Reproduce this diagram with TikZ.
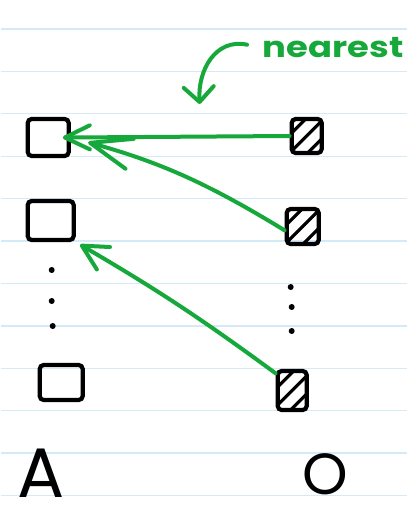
\documentclass[tikz,border=0pt]{standalone}
\usepackage{fontspec}
\setmainfont{Poppins}
\usetikzlibrary{arrows.meta,calc}
\definecolor{pen}{HTML}{16A83A}
\definecolor{ruled}{HTML}{D5EAF7}
\begin{document}
\begin{tikzpicture}[x=1pt,y=-1pt,
  sq/.style 2 args={draw=black, line width=4.2pt, rounded corners=4pt, inner sep=0pt,
    minimum width=#1, minimum height=#2},
  hatched/.style={path picture={
    \foreach \d in {-9,0,9}{
      \draw[line width=3.2pt, line cap=round]
        ($(path picture bounding box.center)+(-25+\d,25+\d)$) --
        ($(path picture bounding box.center)+(25+\d,-25+\d)$);}}},
  dotmark/.style={circle, fill=black, inner sep=0pt, minimum size=6pt},
  link/.style={draw=pen, line width=4pt, line cap=round},
  label/.style={inner sep=0pt, anchor=base}]
\fill[white] (0,0) rectangle (406,508);
\foreach \k in {0,...,11}
  \draw[ruled, line width=1.4pt] (0,{29+42.4*\k}) -- (406,{29+42.4*\k});
\useasboundingbox (0,0) rectangle (406,508);

% set A
\node[sq={41pt}{37pt}] (l1) at (47.5,137.5) {};
\node[sq={46pt}{39pt}] (l2) at (50,220.5) {};
\node[dotmark] (ld1) at (51,270) {};
\node[dotmark] (ld2) at (51,301) {};
\node[dotmark] (ld3) at (52,326) {};
\node[sq={43pt}{35pt}] (l3) at (60.5,382.5) {};

% set O
\node[sq={30pt}{34pt}, hatched] (r1) at (306,136) {};
\node[sq={32pt}{35pt}, hatched] (r2) at (302,226.5) {};
\node[dotmark] (rd1) at (290,287) {};
\node[dotmark] (rd2) at (291,307) {};
\node[dotmark] (rd3) at (291,331) {};
\node[sq={29pt}{39pt}, hatched] (r3) at (291.5,390.5) {};

% labels
\node[label, font=\fontsize{70}{70}\selectfont] (la) at (40,497) {A};
\node[label, font=\fontsize{58}{58}\selectfont] (lo) at (325,494) {O};
\node[label, anchor=base west, text=pen, font=\fontsize{29}{29}\selectfont\bfseries] (nt) at (262,58)
  {\scalebox{1.22}[1]{nearest}};

% connectors
\draw[link, -{Straight Barb[length=25pt, width=24pt, round]}, shorten >=-8pt]
  (r1.west) -- (l1.east);
\draw[link, -{Straight Barb[length=41pt, width=31pt, round]}, shorten >=18pt]
  (r2.192) to[bend right=8] (l1.east);
\draw[link, -{Straight Barb[length=25pt, width=26pt, round]}, shorten >=5pt]
  (r3.134) to[bend right=3] (l2.south east);
\coordinate (ntip) at (199,104);
\draw[link, -{Straight Barb[length=15pt, width=30pt, round]}, shorten <=16pt]
  (nt.west) .. controls (215,38) and (197,70) .. (ntip);
\end{tikzpicture}
\end{document}
